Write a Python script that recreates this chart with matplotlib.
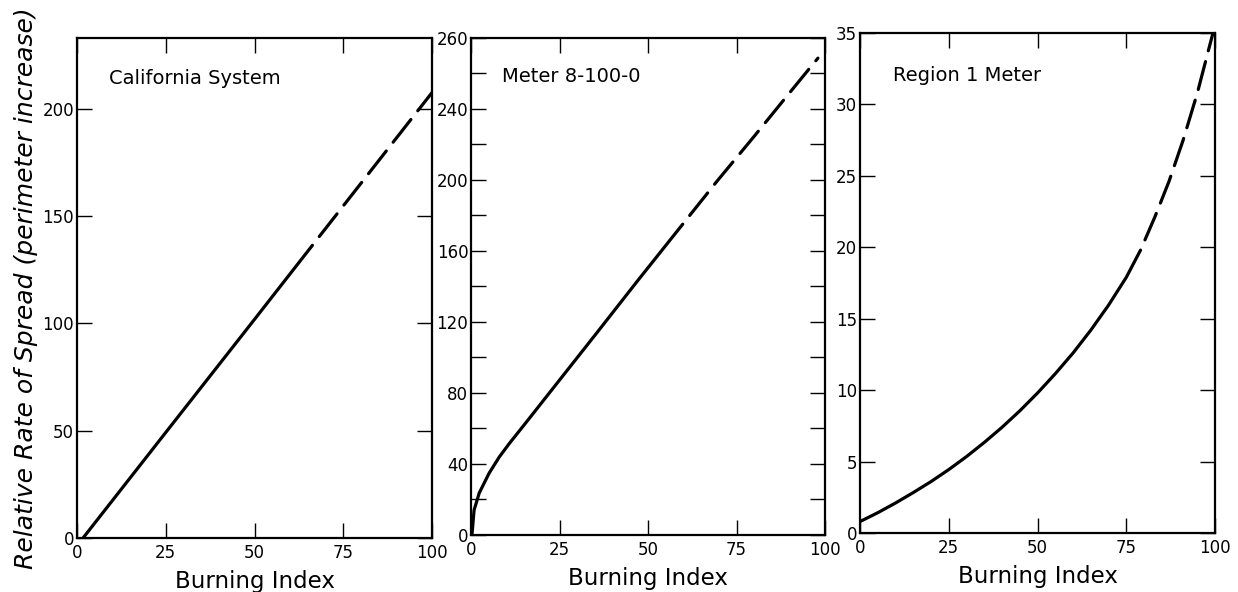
import matplotlib
matplotlib.use("Agg")
import matplotlib.pyplot as plt
from matplotlib.ticker import FixedLocator

# ---------------- data ----------------
titles = ["California System", "Meter 8-100-0", "Region 1 Meter"]
xlabel = "Burning Index"
ylabel = "Relative Rate of Spread (perimeter increase)"
x_ticks = [0, 25, 50, 75, 100]
x_ticklabels = ["0", "25", "50", "75", "100"]

# Panel 1 - California System
p1_solid_x = [1.7, 25, 50, 66.3]
p1_solid_y = [0, 49.2, 101.9, 136.4]
p1_dash_x = [66.3, 100]
p1_dash_y = [136.4, 207.6]
p1_ylim = (0, 233)
p1_yticks = [0, 50, 100, 150, 200]
p1_yticklabels = ["0", "50", "100", "150", "200"]

# Panel 2 - Meter 8-100-0
p2_solid_x = [0, 0.3, 0.85, 2.3, 5.1, 8.0, 10.8, 15.6, 24.9, 35.4, 47.0, 59.8]
p2_solid_y = [0, 1, 14, 23.6, 34.8, 44, 51.5, 63.5, 87, 113.5, 143, 175]
p2_dash_x = [59.8, 69.4, 80, 90, 98]
p2_dash_y = [175, 199, 224.5, 249, 268.5]
p2_ylim = (0, 280)
p2_yticks = [0, 40, 80, 120, 160, 200, 240, 280]
p2_yticklabels = ["0", "40", "80", "120", "160", "200", "240", "260"]
p2_yminor = [20, 60, 100, 140, 180, 220, 260]

# Panel 3 - Region 1 Meter
p3_solid_x = [0, 5, 10, 15, 20, 25, 30, 35, 40, 45, 50, 55, 60, 65, 70, 75, 79]
p3_solid_y = [0.8, 1.42, 2.1, 2.83, 3.6, 4.44, 5.35, 6.34, 7.4, 8.55, 9.8,
              11.15, 12.6, 14.2, 15.95, 17.9, 19.8]
p3_dash_x = [79, 83, 87, 91, 95, 99.4]
p3_dash_y = [19.8, 22.1, 24.6, 27.5, 30.8, 35.0]
p3_ylim = (0, 35)
p3_yticks = [0, 5, 10, 15, 20, 25, 30, 35]
p3_yticklabels = ["0", "5", "10", "15", "20", "25", "30", "35"]

# ---------------- figure ----------------
plt.rcParams['font.family'] = ['DejaVu Sans']
fig = plt.figure(figsize=(12.38, 5.92), dpi=100)

positions = [
    [0.0622, 0.0912, 0.2868, 0.8446],
    [0.3805, 0.0963, 0.2859, 0.8400],
    [0.6947, 0.0997, 0.2868, 0.8446],
]
title_pos = [(0.09, 0.92), (0.087, 0.921), (0.093, 0.914)]

panels = [
    (p1_solid_x, p1_solid_y, p1_dash_x, p1_dash_y, p1_ylim, p1_yticks, p1_yticklabels, None),
    (p2_solid_x, p2_solid_y, p2_dash_x, p2_dash_y, p2_ylim, p2_yticks, p2_yticklabels, p2_yminor),
    (p3_solid_x, p3_solid_y, p3_dash_x, p3_dash_y, p3_ylim, p3_yticks, p3_yticklabels, None),
]

lw = 2.3
for i, (sx, sy, dx, dy, ylim, yt, ytl, ymin) in enumerate(panels):
    ax = fig.add_axes(positions[i])
    ax.plot(sx, sy, color='black', lw=lw, solid_capstyle='round', solid_joinstyle='round')
    ax.plot(dx, dy, color='black', lw=lw, linestyle=(9, (9, 3.5)), dash_capstyle='round')
    ax.set_xlim(0, 100)
    ax.set_ylim(*ylim)
    ax.set_xticks(x_ticks)
    ax.set_xticklabels(x_ticklabels)
    ax.set_yticks(yt)
    ax.set_yticklabels(ytl)
    if ymin is not None:
        ax.yaxis.set_minor_locator(FixedLocator(ymin))
        ax.tick_params(axis='y', which='minor', direction='in', left=True, right=True,
                       length=11, width=1.0)
    ax.tick_params(axis='both', which='major', direction='in', top=True, right=True,
                   length=11, width=1.0, labelsize=12, pad=4)
    ax.tick_params(axis='y', pad=2)
    for sp in ax.spines.values():
        sp.set_linewidth(1.6)
    ax.set_xlabel(xlabel, fontsize=16.5, labelpad=6)
    ax.text(title_pos[i][0], title_pos[i][1], titles[i], transform=ax.transAxes,
            fontsize=14, ha='left', va='center')
    if i == 0:
        ax.set_ylabel(ylabel, fontsize=18, style='italic', labelpad=3)

fig.savefig("out.png", dpi=100, facecolor='white')
